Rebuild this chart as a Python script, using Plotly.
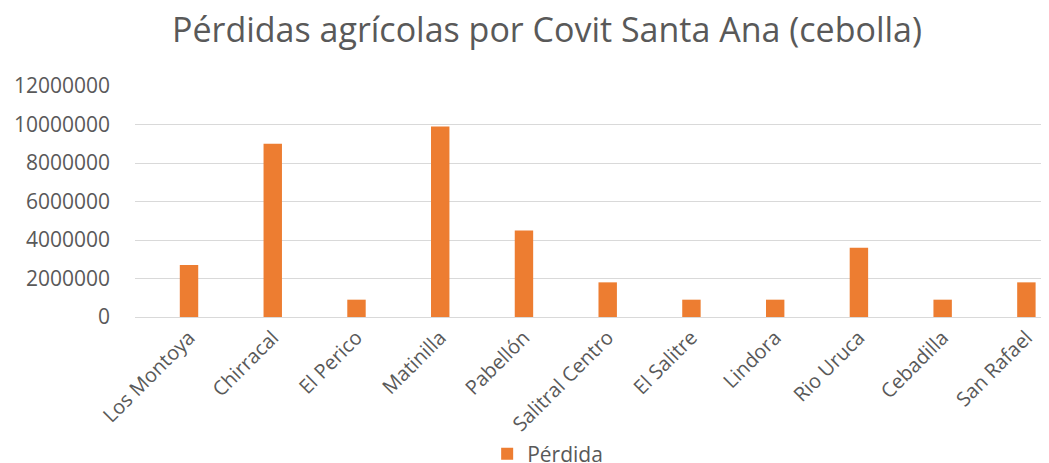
import plotly.graph_objects as go

categories = ["Los Montoya", "Chirracal", "El Perico", "Matinilla", "Pabellón",
              "Salitral Centro", "El Salitre", "Lindora", "Rio Uruca", "Cebadilla", "San Rafael"]
perdida = [2700000, 9000000, 900000, 9900000, 4500000, 1800000,
           900000, 900000, 3600000, 900000, 1800000]
y_ticks = [0, 2000000, 4000000, 6000000, 8000000, 10000000, 12000000]

TEXT = "#595959"
FONT = "Open Sans"

fig = go.Figure()
fig.add_trace(go.Bar(
    x=list(range(len(categories))), y=perdida, name="Pérdida",
    marker=dict(color="#ED7D31", line=dict(width=0)),
    width=0.22,
))

W, H = 1041, 455
T, B = 78, 146
PH = H - T - B
fig.update_layout(
    width=W, height=H,
    margin=dict(l=127, r=0, t=T, b=B, autoexpand=False),
    paper_bgcolor="white", plot_bgcolor="white",
    title=dict(text="Pérdidas agrícolas por Covit Santa Ana (cebolla)",
               x=539 / W, xanchor="center", y=1 - 22 / H, yanchor="middle",
               font=dict(family=FONT, size=34, color=TEXT)),
    showlegend=True,
    legend=dict(orientation="h", x=470 / W, xanchor="center",
                y=-(446 - (H - B)) / PH, yref="paper", yanchor="middle",
                bgcolor="rgba(0,0,0,0)",
                font=dict(family=FONT, size=21, color=TEXT),
                itemwidth=30),
)
fig.update_xaxes(
    tickmode="array", tickvals=list(range(len(categories))), ticktext=categories,
    range=[-0.645, 10.27], tickangle=-45, automargin=False,
    tickfont=dict(family=FONT, size=20, color=TEXT),
    showgrid=False, showline=True, linecolor="#D9D9D9", linewidth=1,
    ticks="", zeroline=False,
)
fig.update_yaxes(
    range=[0, 12000000], tickmode="array", tickvals=y_ticks,
    ticktext=[str(v) for v in y_ticks], automargin=False,
    tickfont=dict(family=FONT, size=21, color=TEXT),
    showgrid=True, gridcolor="#D9D9D9", gridwidth=1,
    zeroline=False, ticks="", ticklabelstandoff=24,
)

fig.write_html("out.html")
